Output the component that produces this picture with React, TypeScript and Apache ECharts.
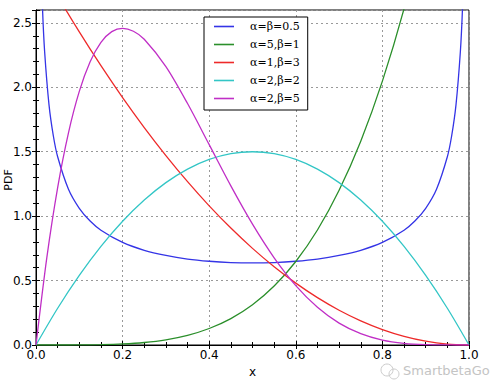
import React, { useEffect, useRef } from "react";
import * as echarts from "echarts";

const legendNames = ["α=β=0.5", "α=5,β=1", "α=1,β=3", "α=2,β=2", "α=2,β=5"];
const colors = ["#3434e6", "#2b8f2b", "#ee2a2a", "#33c6c6", "#c02fc6"];

const xArcsine = [0.005, 0.01, 0.015, 0.02, 0.03, 0.04, 0.05, 0.075, 0.1, 0.125, 0.15, 0.2, 0.25, 0.3, 0.35, 0.4, 0.45, 0.5, 0.55, 0.6, 0.65, 0.7, 0.75, 0.8, 0.85, 0.875, 0.9, 0.925, 0.95, 0.96, 0.97, 0.98, 0.985, 0.99, 0.995];
const yArcsine = [4.513, 3.199, 2.618, 2.274, 1.866, 1.624, 1.461, 1.209, 1.061, 0.962, 0.891, 0.796, 0.735, 0.695, 0.667, 0.650, 0.640, 0.637, 0.640, 0.650, 0.667, 0.695, 0.735, 0.796, 0.891, 0.962, 1.061, 1.209, 1.461, 1.624, 1.866, 2.274, 2.618, 3.199, 4.513];

const xCommon = [0, 0.05, 0.1, 0.15, 0.2, 0.25, 0.3, 0.35, 0.4, 0.45, 0.5, 0.55, 0.6, 0.65, 0.7, 0.75, 0.8, 0.85, 0.9, 0.95, 1.0];
const y51 = [0, 0.00003, 0.0005, 0.0025, 0.008, 0.0195, 0.0405, 0.075, 0.128, 0.205, 0.3125, 0.4575, 0.648, 0.8925, 1.2005, 1.582, 2.048, 2.61, 3.2805, 4.073, 5.0];
const y13 = [3.0, 2.7075, 2.43, 2.1675, 1.92, 1.6875, 1.47, 1.2675, 1.08, 0.9075, 0.75, 0.6075, 0.48, 0.3675, 0.27, 0.1875, 0.12, 0.0675, 0.03, 0.0075, 0];
const y22 = [0, 0.285, 0.54, 0.765, 0.96, 1.125, 1.26, 1.365, 1.44, 1.485, 1.5, 1.485, 1.44, 1.365, 1.26, 1.125, 0.96, 0.765, 0.54, 0.285, 0];

const x25 = [0, 0.025, 0.05, 0.075, 0.1, 0.125, 0.15, 0.175, 0.2, 0.225, 0.25, 0.3, 0.35, 0.4, 0.45, 0.5, 0.55, 0.6, 0.65, 0.7, 0.75, 0.8, 0.85, 0.9, 0.95, 1.0];
const y25 = [0, 0.678, 1.222, 1.647, 1.968, 2.198, 2.349, 2.432, 2.458, 2.435, 2.373, 2.161, 1.874, 1.555, 1.235, 0.938, 0.677, 0.461, 0.293, 0.170, 0.088, 0.038, 0.013, 0.0027, 0.0002, 0];

const xTicks = [0.0, 0.2, 0.4, 0.6, 0.8, 1.0];
const yTicks = [0.0, 0.5, 1.0, 1.5, 2.0, 2.5];

const pair = (xs: number[], ys: number[]) => xs.map((x, i) => [x, ys[i]]);

export default function App() {
  const ref = useRef<HTMLDivElement>(null);
  useEffect(() => {
    if (!ref.current) return;
    const chart = echarts.init(ref.current, null, { renderer: "svg" });
    const font = "DejaVu Sans";
    const lab = { color: "#000", fontFamily: font, fontSize: 12 };
    const tickStyle = { color: "#000", width: 1 };
    const seriesData = [
      pair(xArcsine, yArcsine),
      pair(xCommon, y51),
      pair(xCommon, y13),
      pair(xCommon, y22),
      pair(x25, y25),
    ];
    chart.setOption({
      animation: false,
      grid: { left: 36, right: 26, top: 10, bottom: 46, show: true, borderColor: "#000", borderWidth: 1, backgroundColor: "#fff", containLabel: false, outerBoundsMode: "none" },
      xAxis: [
        {
          type: "value", min: 0, max: 1, interval: 0.2, position: "bottom",
          name: "x", nameLocation: "middle", nameGap: 16,
          nameTextStyle: { ...lab, fontSize: 12 },
          axisLine: { show: true, lineStyle: { color: "#000" } },
          axisTick: { show: true, inside: true, length: 4, lineStyle: tickStyle },
          minorTick: { show: true, splitNumber: 4, length: 3, lineStyle: tickStyle },
          axisLabel: { ...lab, margin: 4, formatter: (v: number) => (xTicks.includes(Math.round(v * 10) / 10) ? v.toFixed(1) : "") },
          splitLine: { show: true, lineStyle: { color: "#999", type: [2, 3], width: 1 } },
        },
        {
          type: "value", min: 0, max: 1, interval: 0.2, position: "top",
          axisLine: { show: true, lineStyle: { color: "#000" } },
          axisTick: { show: true, inside: true, length: 4, lineStyle: tickStyle },
          minorTick: { show: true, splitNumber: 4, length: 3, lineStyle: tickStyle },
          axisLabel: { show: false },
          splitLine: { show: false },
        },
      ],
      yAxis: [
        {
          type: "value", min: 0, max: 2.6, interval: 0.5, position: "left",
          axisLine: { show: true, lineStyle: { color: "#000" } },
          axisTick: { show: true, inside: true, length: 4, lineStyle: tickStyle },
          minorTick: { show: true, splitNumber: 5, length: 3, lineStyle: tickStyle },
          axisLabel: { ...lab, margin: 4, formatter: (v: number) => (yTicks.includes(v) ? v.toFixed(1) : "") },
          splitLine: { show: true, lineStyle: { color: "#999", type: [2, 3], width: 1 } },
        },
        {
          type: "value", min: 0, max: 2.6, interval: 0.5, position: "right",
          axisLine: { show: true, lineStyle: { color: "#000" } },
          axisTick: { show: true, inside: true, length: 4, lineStyle: tickStyle },
          minorTick: { show: true, splitNumber: 5, length: 3, lineStyle: tickStyle },
          axisLabel: { show: false },
          splitLine: { show: false },
        },
      ],
      legend: {
        data: legendNames,
        orient: "vertical",
        left: 204, top: 17,
        width: 95,
        padding: [4, 8, 6, 10],
        itemGap: 7,
        itemWidth: 20, itemHeight: 12,
        backgroundColor: "#fff",
        borderColor: "#000", borderWidth: 1,
        icon: "path://M0,5 L20,5 L20,6.6 L0,6.6 Z",
        textStyle: { fontFamily: "DejaVu Serif", fontSize: 11, color: "#000", padding: [0, 0, 0, 11] },
      },
      series: legendNames.map((n, i) => ({
        name: n,
        type: "line",
        data: seriesData[i],
        smooth: 0.3,
        showSymbol: false,
        clip: true,
        lineStyle: { color: colors[i], width: 1.3 },
        itemStyle: { color: colors[i] },
      })),
      graphic: [
        { type: "text", x: 8, y: 180, rotation: Math.PI / 2, style: { text: "PDF", fill: "#000", font: "11px DejaVu Sans", align: "center", verticalAlign: "middle" } },
        { type: "text", left: 403, top: 364, style: { text: "SmartbetaGo", fill: "#c4c4c4", font: "13px DejaVu Sans" } },
        { type: "circle", shape: { cx: 387, cy: 370, r: 6 }, style: { fill: "none", stroke: "#cccccc", lineWidth: 1 } },
        { type: "circle", shape: { cx: 394, cy: 374, r: 5 }, style: { fill: "none", stroke: "#cccccc", lineWidth: 1 } },
      ],
    });
    return () => chart.dispose();
  }, []);
  return <div ref={ref} style={{ width: 495, height: 391, position: "absolute", left: 0, top: 0 }} />;
}
